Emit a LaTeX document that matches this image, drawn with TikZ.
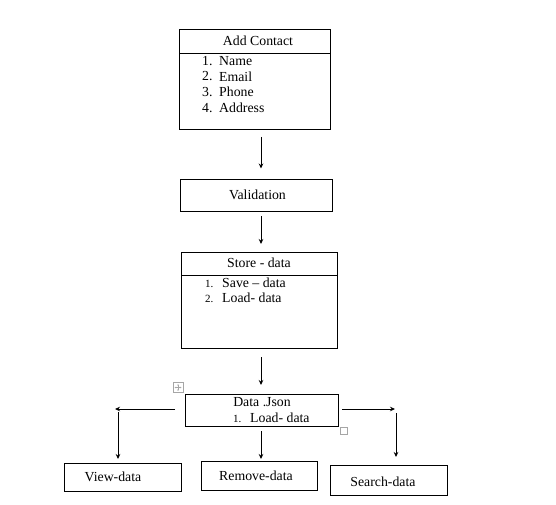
\documentclass[tikz,border=0pt]{standalone}
\usepackage{fontspec}
\setmainfont{Liberation Serif}
\usetikzlibrary{arrows.meta}
\begin{document}
\begin{tikzpicture}[x=1pt,y=-1pt,
  box/.style={draw,line width=0.9pt,inner sep=0pt},
  lbl/.style={inner sep=0pt,font=\fontsize{13.8}{16}\selectfont},
  item/.style={inner sep=0pt,anchor=west,font=\fontsize{13.8}{16}\selectfont},
  num/.style={inner sep=0pt,anchor=west,font=\fontsize{13.8}{16}\selectfont},
  smallnum/.style={inner sep=0pt,anchor=west,font=\fontsize{11}{13}\selectfont},
  flow/.style={line width=0.8pt,-{Stealth[length=5pt,width=4.5pt]}},
  handle/.style={draw=gray!70,line width=0.6pt}]
\useasboundingbox (0,0) rectangle (556,505);

% Add Contact box with its field list
\node[box,minimum width=151pt,minimum height=100pt] (add) at (254.5,79) {};
\draw[line width=0.9pt] (179,53) -- (330,53);
\node[lbl] (addT) at (258,41) {Add Contact};
\node[num] (n1) at (202,61) {1.};
\node[item] (i1) at (219,61) {Name};
\node[num] (n2) at (202,76.5) {2.};
\node[item] (i2) at (219,76.5) {Email};
\node[num] (n3) at (202,92) {3.};
\node[item] (i3) at (219,92) {Phone};
\node[num] (n4) at (202,108) {4.};
\node[item] (i4) at (219,108) {Address};

% Validation
\node[box,minimum width=152pt,minimum height=32pt] (val) at (256,195) {};
\node[lbl] (valT) at (257.5,195) {Validation};

% Store - data box
\node[box,minimum width=156pt,minimum height=96pt] (store) at (259,300) {};
\draw[line width=0.9pt] (181,275) -- (337,275);
\node[lbl] (storeT) at (259,263) {Store - data};
\node[smallnum] (s1n) at (205,283.5) {1.};
\node[item] (s1) at (222,283) {Save – data};
\node[smallnum] (s2n) at (205,298.5) {2.};
\node[item] (s2) at (222,298) {Load- data};

% Data .Json
\node[box,minimum width=153pt,minimum height=32pt] (json) at (261.5,410) {};
\node[lbl] (jsonT) at (262,402) {Data .Json};
\node[smallnum] (j1n) at (233,418.5) {1.};
\node[item] (j1) at (250,418) {Load- data};

% table handles around the Data .Json box
\node[handle,minimum size=10pt,inner sep=0pt] (mv) at (178,387.5) {};
\draw[gray!70,line width=0.5pt,{Stealth[length=1.5pt,width=1.5pt]}-{Stealth[length=1.5pt,width=1.5pt]}] (174.5,387.5) -- (181.5,387.5);
\draw[gray!70,line width=0.5pt,{Stealth[length=1.5pt,width=1.5pt]}-{Stealth[length=1.5pt,width=1.5pt]}] (178,384) -- (178,391);
\node[handle,minimum size=7pt,inner sep=0pt] (rs) at (343.5,430.5) {};

% output boxes
\node[box,minimum width=117pt,minimum height=28pt] (view) at (122.5,477) {};
\node[lbl] (viewT) at (113,477) {View-data};
\node[box,minimum width=116pt,minimum height=29pt] (remove) at (259,475.5) {};
\node[lbl] (removeT) at (256,476) {Remove-data};
\node[box,minimum width=117pt,minimum height=30pt] (search) at (388.5,480) {};
\node[lbl] (searchT) at (383,482) {Search-data};

% connector end points
\coordinate (a1) at (261,137);
\coordinate (a2) at (261,168.5);
\coordinate (b1) at (261,216);
\coordinate (b2) at (261,244);
\coordinate (c1) at (261,357);
\coordinate (c2) at (261,385);
\coordinate (l1) at (175,409);
\coordinate (l2) at (115,409);
\coordinate (l3) at (118,412);
\coordinate (l4) at (118,459);
\coordinate (m1) at (261,431);
\coordinate (m2) at (261,459);
\coordinate (r1) at (342,409);
\coordinate (r2) at (395,409);
\coordinate (r3) at (396,413);
\coordinate (r4) at (396,457);

\draw[flow] (a1) -- (a2);
\draw[flow] (b1) -- (b2);
\draw[flow] (c1) -- (c2);
\draw[flow] (l1) -- (l2);
\draw[flow] (l3) -- (l4);
\draw[flow] (m1) -- (m2);
\draw[flow] (r1) -- (r2);
\draw[flow] (r3) -- (r4);
\end{tikzpicture}
\end{document}
